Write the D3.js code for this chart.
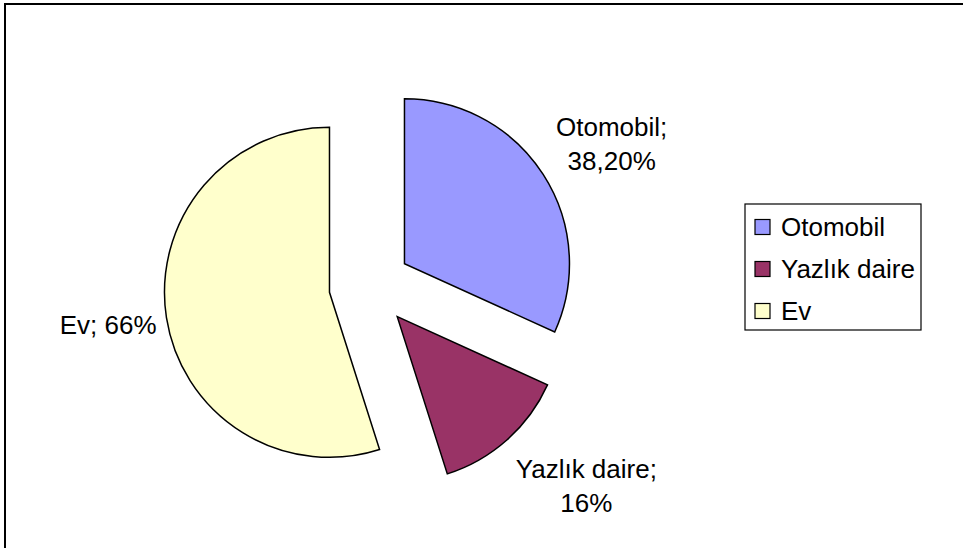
<!DOCTYPE html>
<html>
<head>
<meta charset="utf-8">
<script src="https://cdn.jsdelivr.net/npm/d3@7"></script>
<style>
  body { margin: 0; background: #fff; }
  svg { display: block; }
  text { font-family: "Liberation Sans", Arial, sans-serif; font-size: 26px; fill: #000; }
</style>
</head>
<body>
<svg></svg>
<script>
// chart data
let categories = ["Otomobil", "Yazlık daire", "Ev"];
let values = [38.2, 16, 66];
let valueLabels = ["38,20%", "16%", "66%"];
let colors = ["#9999FF", "#993366", "#FFFFCC"];

let svg = d3.select("svg").attr("width", 963).attr("height", 548),
    cx = 370, cy = 286,
    radius = 165,
    explode = 41;

// outer chart frame (right/bottom edges fall outside the picture)
svg.append("rect")
    .attr("x", 5).attr("y", 4)
    .attr("width", 1000).attr("height", 600)
    .attr("fill", "none")
    .attr("stroke", "#000")
    .attr("stroke-width", 2);

let pie = d3.pie().sort(null).value(function(d) { return d; });
let arc = d3.arc().innerRadius(0).outerRadius(radius);
let arcs = pie(values);

function mid(d) { return (d.startAngle + d.endAngle) / 2; }

let g = svg.append("g").attr("transform", "translate(" + cx + "," + cy + ")");

g.selectAll(".slice")
    .data(arcs)
    .enter().append("path")
    .attr("class", "slice")
    .attr("transform", function(d) {
        let a = mid(d);
        return "translate(" + (Math.sin(a) * explode) + "," + (-Math.cos(a) * explode) + ")";
    })
    .attr("d", arc)
    .attr("fill", function(d, i) { return colors[i]; })
    .attr("stroke", "#000")
    .attr("stroke-width", 1.5)
    .attr("stroke-linejoin", "miter");

// data labels: placed along each slice's bisector
let labelRadius = [278, 282, 265];
let labelShift = [[8, 8], [29, -11], [0, -2]];
let labelLines = [
    [categories[0] + ";", valueLabels[0]],
    [categories[1] + ";", valueLabels[1]],
    [categories[2] + "; " + valueLabels[2]]
];

let lineH = 34;
g.selectAll(".label")
    .data(arcs)
    .enter().append("text")
    .attr("class", "label")
    .attr("text-anchor", "middle")
    .each(function(d, i) {
        let a = mid(d);
        let x = Math.sin(a) * labelRadius[i] + labelShift[i][0];
        let y = -Math.cos(a) * labelRadius[i] + labelShift[i][1];
        let lines = labelLines[i];
        let t = d3.select(this);
        lines.forEach(function(s, k) {
            t.append("tspan")
                .attr("x", x)
                .attr("y", y + (k - (lines.length - 1) / 2) * lineH)
                .attr("dy", "0.35em")
                .text(s);
        });
    });

// legend
let legend = svg.append("g").attr("transform", "translate(745,204)");
legend.append("rect")
    .attr("width", 176).attr("height", 126)
    .attr("fill", "#fff")
    .attr("stroke", "#000")
    .attr("stroke-width", 1.2);

let ly = d3.scalePoint().domain(categories).range([23, 107]);

let item = legend.selectAll(".item")
    .data(categories)
    .enter().append("g")
    .attr("class", "item")
    .attr("transform", function(d) { return "translate(0," + ly(d) + ")"; });

item.append("rect")
    .attr("x", 10).attr("y", -7.5)
    .attr("width", 15).attr("height", 15)
    .attr("fill", function(d, i) { return colors[i]; })
    .attr("stroke", "#000")
    .attr("stroke-width", 1.2);

item.append("text")
    .attr("x", 36)
    .attr("dy", "0.35em")
    .text(function(d) { return d; });
</script>
</body>
</html>
